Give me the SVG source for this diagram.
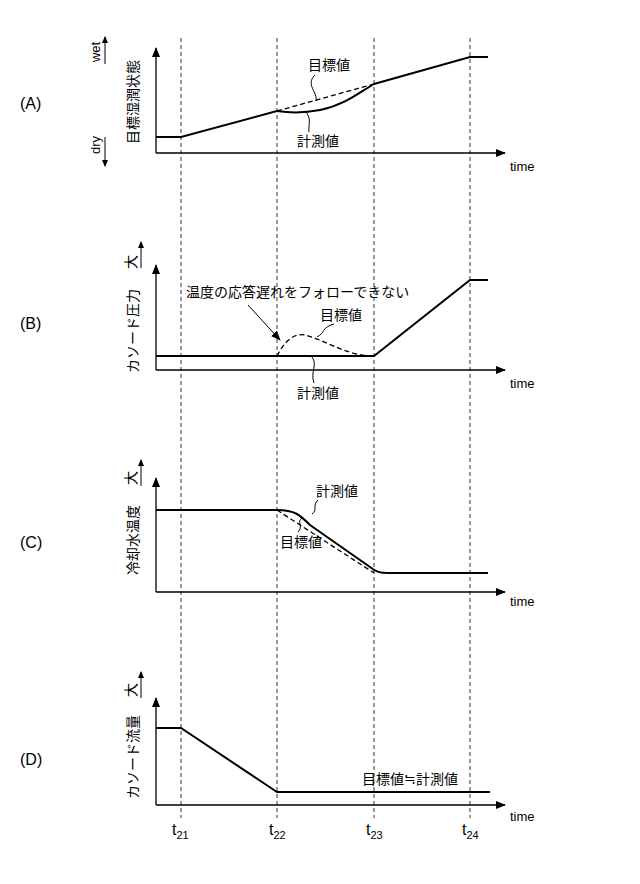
<svg xmlns="http://www.w3.org/2000/svg" width="640" height="884" viewBox="0 0 640 884">
<style>
text{font-family:"Liberation Sans","Noto Sans CJK JP",sans-serif;fill:#000}
.j{font-size:14px}
.p{font-size:16px}
.s{font-size:13px}
.ax{stroke:#000;stroke-width:1.3;fill:none}
.c{stroke:#000;stroke-width:2;fill:none}
.d{stroke:#000;stroke-width:1.3;fill:none;stroke-dasharray:5,3}
.g{stroke:#000;stroke-width:0.8;fill:none;stroke-dasharray:4,3}
.l{stroke:#000;stroke-width:1;fill:none}
</style>
<defs>
<marker id="ah" markerWidth="10" markerHeight="8" refX="9" refY="4" orient="auto" markerUnits="userSpaceOnUse"><path d="M0,0L10,4L0,8z" fill="#000"/></marker>
<marker id="as" markerWidth="7" markerHeight="6" refX="6" refY="3" orient="auto" markerUnits="userSpaceOnUse"><path d="M0,0L7,3L0,6z" fill="#000"/></marker>
</defs>
<rect width="640" height="884" fill="#fff"/>
<g id="grid">
<line class="g" x1="181" y1="38" x2="181" y2="818"/>
<line class="g" x1="277" y1="38" x2="277" y2="818"/>
<line class="g" x1="374" y1="38" x2="374" y2="818"/>
<line class="g" x1="470" y1="38" x2="470" y2="818"/>
</g>
<g id="panelA">
<text class="p" x="20" y="109">(A)</text>
<text class="j" font-size="15" transform="translate(138,102) rotate(-90)" text-anchor="middle">目標湿潤状態</text>
<text class="s" transform="translate(100,52) rotate(-90)" text-anchor="middle">wet</text>
<line class="l" x1="105" y1="64" x2="105" y2="37" marker-end="url(#as)"/>
<text class="s" transform="translate(100,145) rotate(-90)" text-anchor="middle">dry</text>
<line class="l" x1="105" y1="137" x2="105" y2="166" marker-end="url(#as)"/>
<path class="ax" d="M156,153V48" marker-end="url(#ah)"/>
<path class="ax" d="M156,153H505" marker-end="url(#ah)"/>
<text class="s" x="510" y="171">time</text>
<path class="c" d="M156,137H181L277,111"/>
<path class="c" d="M277,111C290,113 305,113 320,110C345,105 360,92 374,84L470,57H488"/>
<path class="d" d="M277,111L374,84"/>
<text class="j" x="308" y="70">目標値</text>
<path class="l" d="M315,75C305,85 318,92 316,101"/>
<text class="j" x="297" y="146">計測値</text>
<path class="l" d="M306,112C312,120 308,125 309,132"/>
</g>
<g id="panelB">
<text class="p" x="20" y="329">(B)</text>
<text class="j" transform="translate(138,331) rotate(-90)" text-anchor="middle">カソード圧力</text>
<text class="j" transform="translate(136,262) rotate(-90)" text-anchor="middle">大</text>
<line class="l" x1="141" y1="268" x2="141" y2="242" marker-end="url(#as)"/>
<path class="ax" d="M156,370V265" marker-end="url(#ah)"/>
<path class="ax" d="M156,370H505" marker-end="url(#ah)"/>
<text class="s" x="510" y="388">time</text>
<path class="c" d="M156,356H374L470,280H488"/>
<path class="d" d="M277,356C285,340 295,333 305,335C325,340 345,355 372,356"/>
<text class="j" x="186" y="297">温度の応答遅れをフォローできない</text>
<line class="l" x1="248" y1="305" x2="280" y2="340" marker-end="url(#ah)"/>
<text class="j" x="320" y="320">目標値</text>
<path class="l" d="M334,324C322,327 325,333 317,337"/>
<text class="j" x="297" y="398">計測値</text>
<path class="l" d="M312,357C318,365 310,372 314,383"/>
</g>
<g id="panelC">
<text class="p" x="20" y="548">(C)</text>
<text class="j" transform="translate(138,540) rotate(-90)" text-anchor="middle">冷却水温度</text>
<text class="j" transform="translate(136,478) rotate(-90)" text-anchor="middle">大</text>
<line class="l" x1="141" y1="486" x2="141" y2="460" marker-end="url(#as)"/>
<path class="ax" d="M156,592V478" marker-end="url(#ah)"/>
<path class="ax" d="M156,592H505" marker-end="url(#ah)"/>
<text class="s" x="510" y="606">time</text>
<path class="c" d="M156,510H277C295,510 300,515 310,525L370,567C376,572 380,573 388,573H488"/>
<path class="d" d="M277,510L374,573"/>
<text class="j" x="316" y="496">計測値</text>
<path class="l" d="M318,500C312,505 318,510 312,514"/>
<text class="j" x="280" y="547">目標値</text>
<path class="l" d="M298,532C304,526 296,522 302,518"/>
</g>
<g id="panelD">
<text class="p" x="20" y="765">(D)</text>
<text class="j" transform="translate(138,757) rotate(-90)" text-anchor="middle">カソード流量</text>
<text class="j" transform="translate(136,690) rotate(-90)" text-anchor="middle">大</text>
<line class="l" x1="141" y1="698" x2="141" y2="672" marker-end="url(#as)"/>
<path class="ax" d="M156,805V698" marker-end="url(#ah)"/>
<path class="ax" d="M156,805H505" marker-end="url(#ah)"/>
<text class="s" x="510" y="821">time</text>
<path class="c" d="M156,728H181L277,792H490"/>
<text class="j" x="362" y="784">目標値≒計測値</text>
</g>
<g id="tlabels">
<text class="p" x="172" y="835">t<tspan font-size="11" dy="4">21</tspan></text>
<text class="p" x="269" y="835">t<tspan font-size="11" dy="4">22</tspan></text>
<text class="p" x="366" y="835">t<tspan font-size="11" dy="4">23</tspan></text>
<text class="p" x="462" y="835">t<tspan font-size="11" dy="4">24</tspan></text>
</g>
</svg>
